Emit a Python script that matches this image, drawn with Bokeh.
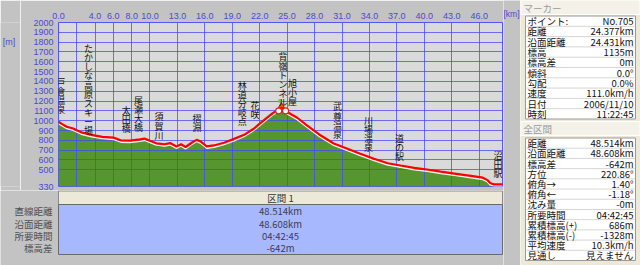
from bokeh.plotting import figure
from bokeh.layouts import row, column
from bokeh.models import Range1d, FixedTicker, PrintfTickFormatter
from bokeh.core.properties import value
from bokeh.embed import file_html
from bokeh.resources import INLINE

# ---------------- data ----------------
dist_km = [0.0, 0.4, 0.9, 1.6, 2.6, 3.6, 4.8, 6.0, 6.8, 7.8, 8.9, 9.4, 10.0, 10.7, 11.6,
           12.2, 12.9, 13.4, 13.9, 14.6, 15.1, 15.6, 16.2, 17.0, 18.1, 19.2, 20.3, 21.3,
           22.4, 23.4, 24.38, 25.0, 26.1, 27.2, 28.5, 30.1, 31.6, 33.0, 34.5, 36.0, 37.4,
           38.9, 40.3, 41.8, 43.3, 45.1, 46.4, 46.9, 47.2, 47.6, 48.6]
elev_m = [990, 965, 938, 920, 878, 856, 836, 828, 800, 797, 810, 818, 795, 770, 760,
          772, 738, 760, 732, 778, 805, 785, 738, 748, 775, 815, 856, 915,
          1000, 1075, 1135, 1088, 1030, 950, 860, 768, 714, 663, 612, 567, 544,
          520, 503, 482, 462, 438, 420, 395, 365, 352, 352]

x_tick_values = [0, 4, 6, 8, 10, 13, 16, 19, 22, 25, 28, 31, 34, 37, 40, 43, 46]
x_grid_values = [0, 2, 4, 6, 8, 10, 13, 16, 19, 22, 25, 28, 31, 34, 37, 40, 43, 46]
y_tick_values = [330, 500, 600, 700, 800, 900, 1000, 1100, 1200, 1300, 1400, 1500,
                 1600, 1700, 1800, 1900, 2000]
x_unit = "[km]"
y_unit = "[m]"

wp_names = ["戸倉温泉", "たかしな高原スキー場", "太田橋", "尾瀬大橋", "須賀川", "摺淵",
            "林道分岐点", "花咲", "背嶺トンネル", "旭小屋", "武尊温泉", "川場温泉",
            "道の駅", "沼田駅"]
wp_km = [0.25, 3.27, 7.4, 8.75, 11.0, 15.15, 20.1, 21.5, 24.55, 25.6, 30.5, 33.9, 37.3, 48.05]
wp_label_top = [1460, 1800, 1172, 1274, 1104, 1087, 1427, 1223, 1715, 1443, 1206, 1070, 883, 714]

marker_km = 24.377
marker_elev = 1135

section_title = "区間 1"
section_labels = ["直線距離", "沿面距離", "所要時間", "標高差"]
section_values = ["48.514km", "48.608km", "04:42:45", "-642m"]

marker_title = "マーカー"
marker_labels = ["ポイント:", "距離", "沿面距離", "標高", "標高差", "傾斜", "勾配", "速度", "日付", "時刻"]
marker_values = ["No.705", "24.377km", "24.431km", "1135m", "0m", "0.0°", "0.0%",
                 "111.0km/h", "2006/11/10", "11:22:45"]

total_title = "全区間"
total_labels = ["距離", "沿面距離", "標高差", "方位", "俯角→", "俯角←", "沈み量", "所要時間",
                "累積標高(+)", "累積標高(-)", "平均速度", "見通し"]
total_values = ["48.514km", "48.608km", "-642m", "220.86°", "1.40°", "-1.18°", "-0m",
                "04:42:45", "686m", "-1328m", "10.3km/h", "見えません"]

# ---------------- styles ----------------
OUTER = "#c3c3c3"
PLOT_BG = "#dadada"
GRID = "#4646ff"
TICK_TXT = "#4a4ad0"
GREEN = "#56962f"
JP = value("Noto Sans CJK JP")
LAT = "Liberation Sans"


def blank(width, height, x0, x1, y0, y1, bg):
    f = figure(width=width, height=height, x_range=Range1d(x0, x1), y_range=Range1d(y0, y1),
               x_axis_type=None, y_axis_type=None, output_backend="svg", toolbar_location=None,
               min_border=0, min_border_left=0, min_border_right=0, min_border_top=0,
               min_border_bottom=0)
    f.outline_line_color = None
    f.background_fill_color = bg
    f.border_fill_color = bg
    return f


# ---------------- main chart ----------------
p = figure(width=483, height=190, x_range=Range1d(0, 48.55), y_range=Range1d(330, 2000),
           x_axis_location="above", output_backend="svg", toolbar_location=None,
           min_border_left=38, min_border_right=1, min_border_top=22, min_border_bottom=4)
p.background_fill_color = PLOT_BG
p.border_fill_color = OUTER
p.outline_line_color = GRID
p.outline_line_alpha = 0.9

for ax in (p.xaxis[0], p.yaxis[0]):
    ax.axis_line_color = None
    ax.major_tick_line_color = None
    ax.minor_tick_line_color = None
    ax.major_tick_in = 0
    ax.major_tick_out = 0
    ax.minor_tick_in = 0
    ax.minor_tick_out = 0
    ax.major_label_text_color = TICK_TXT
    ax.major_label_text_font = LAT
    ax.major_label_text_font_size = "9px"

p.xaxis.ticker = FixedTicker(ticks=x_tick_values)
p.xaxis.formatter = PrintfTickFormatter(format="%.1f")
p.xaxis.major_label_standoff = 4
p.yaxis.ticker = FixedTicker(ticks=y_tick_values)
p.yaxis.major_label_standoff = 5

p.xgrid.ticker = FixedTicker(ticks=x_grid_values)
p.ygrid.ticker = FixedTicker(ticks=y_tick_values)
for g in (p.xgrid[0], p.ygrid[0]):
    g.grid_line_color = GRID
    g.grid_line_alpha = 0.75
    g.grid_line_width = 1
    g.level = "underlay"

green_top = [e - 20 for e in elev_m]
area = p.varea(x=dist_km, y1=330, y2=green_top, fill_color=GREEN)
area.level = "image"
p.line(dist_km, green_top, line_color="#f2f2f2", line_width=1.2)
p.line(dist_km, elev_m, line_color="#ff0000", line_width=2.2)

# cyclist marker at current point
p.scatter([marker_km - 0.3, marker_km + 0.45], [marker_elev - 35, marker_elev - 35], size=6,
          marker="circle", fill_color="white", line_color="#e02020", line_width=1.2)
p.scatter([marker_km], [marker_elev + 15], size=6, marker="triangle", fill_color="#ff5010",
          line_color="#c02000")
p.scatter([marker_km - 0.15], [marker_elev + 65], size=4, marker="circle", fill_color="#7cc040",
          line_color=None)

p.text(x=wp_km, y=wp_label_top, text=["\n".join(s) for s in wp_names], text_align="center",
       text_baseline="top", text_font=JP, text_font_size="9px", text_line_height=0.7,
       text_color="#111111")

# unit strips
strip_m = blank(20, 190, 0, 20, 190, 0, OUTER)
strip_m.text(x=[8.5], y=[23], text=[y_unit], text_align="center", text_baseline="middle",
             text_font=value(LAT), text_font_size="9px", text_color=TICK_TXT)
strip_km = blank(17, 265, 503, 520, 265, 0, OUTER)
strip_km.text(x=[511], y=[13], text=[x_unit], text_align="center", text_baseline="middle",
              text_font=value(LAT), text_font_size="8.5px", text_color=TICK_TXT)

# ---------------- section table (bottom) ----------------
t = blank(503, 75, 0, 503, 78, 3, OUTER)
t.quad(left=[58], right=[502], top=[3.5], bottom=[17], fill_color="#ece9d8", line_color="#8a8a8a")
t.quad(left=[58], right=[502], top=[17], bottom=[67], fill_color="#a8b8ff", line_color="#6a6a6a")
t.text(x=[280], y=[10.2], text=[section_title], text_align="center", text_baseline="middle",
       text_font=JP, text_font_size="9.5px", text_color="#333333")
rows_y = [23.7 + 12.3 * i for i in range(len(section_labels))]
t.text(x=[52] * len(section_labels), y=rows_y, text=section_labels, text_align="right",
       text_baseline="middle", text_font=JP, text_font_size="9.5px", text_color="#505050")
t.text(x=[280] * len(section_values), y=rows_y, text=section_values, text_align="center",
       text_baseline="middle", text_font=JP, text_font_size="9.5px", text_color="#3c3c50")

# ---------------- right panel ----------------
r = blank(120, 265, 520, 640, 265, 0, "#ece9d8")


def panel_table(title, title_y, labels, values, top, bottom):
    r.quad(left=[520.5], right=[639.5], top=[title_y - 7], bottom=[title_y + 7],
           fill_color="#f3f1e8", line_color="#ffffff")
    r.text(x=[523], y=[title_y], text=[title], text_align="left", text_baseline="middle",
           text_font=JP, text_font_size="9.5px", text_color="#9a9a9a")
    r.quad(left=[525], right=[635], top=[top], bottom=[bottom], fill_color="white",
           line_color="#9a9a9a")
    n = len(labels)
    h = (bottom - top) / n
    seps = [top + h * i for i in range(1, n)]
    r.segment(x0=[526] * len(seps), y0=seps, x1=[634] * len(seps), y1=seps,
              line_color="#d6d6d6", line_width=1)
    ys = [top + h * (i + 0.5) for i in range(n)]
    r.text(x=[527] * n, y=ys, text=labels, text_align="left", text_baseline="middle",
           text_font=JP, text_font_size="9.5px", text_color="#111111")
    r.text(x=[633] * n, y=ys, text=values, text_align="right", text_baseline="middle",
           text_font=JP, text_font_size="9.5px", text_color="#111111")


panel_table(marker_title, 7, marker_labels, marker_values, 15.5, 118.5)
panel_table(total_title, 128, total_labels, total_values, 137.5, 260)

left_block = column(row(strip_m, p, spacing=0), t, spacing=0)
layout = row(left_block, strip_km, r, spacing=0)
open("out.html", "w").write(file_html(layout, INLINE))
